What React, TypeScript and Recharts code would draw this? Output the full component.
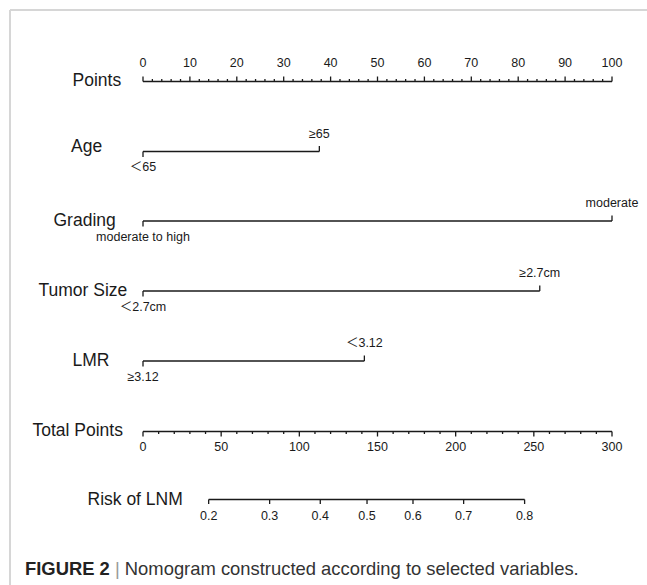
import React from 'react';
import { ComposedChart, XAxis, YAxis, Line, Scatter, Customized } from 'recharts';

// ---------------- data ----------------
const pointMajorTicks = [0, 10, 20, 30, 40, 50, 60, 70, 80, 90, 100];
const pointMinorStep = 2;
const totalMajorTicks = [0, 50, 100, 150, 200, 250, 300];
const totalMinorStep = 10;

const variableNames = ['Age', 'Grading', 'Tumor Size', 'LMR'];
const lowLevelLabels = ['＜65', 'moderate to high', '＜2.7cm', '≥3.12'];
const highLevelLabels = ['≥65', 'moderate', '≥2.7cm', '＜3.12'];
const highLevelPoints = [37.6, 100, 84.6, 47.2];

const riskTickLabels = ['0.2', '0.3', '0.4', '0.5', '0.6', '0.7', '0.8'];
const riskTickTotalPoints = [42.0, 81.0, 113.4, 143.3, 172.7, 205.1, 244.1];

const captionBold = 'FIGURE 2';
const captionText = 'Nomogram constructed according to selected variables.';

// ---------------- layout ----------------
const W = 647;
const H = 585;
const ROW_Y = { points: 81.5, vars: [151.5, 221, 291, 361], total: 431.5, risk: 499.5 };
const TITLE_X = { points: 72.5, vars: [71, 53.5, 38.5, 72.5], total: 32.5, risk: 87.5 };
const TITLE_DY = { points: 4.5, vars: [0.5, 4.5, 4.5, 4.5], total: 4, risk: 5 };

const FONT = '"Liberation Sans", Arial, Helvetica, "Noto Sans CJK SC", sans-serif';
const INK = '#1a1a1a';
const LW = 1.3;

const TICK_STYLE: Record<string, { len: number; labelDy?: number }> = {
  pMajor: { len: -5, labelDy: -15 },
  pMinor: { len: -2.5 },
  tMajor: { len: 5, labelDy: 19.5 },
  tMinor: { len: 2.5 },
  risk: { len: 4.5, labelDy: 20.5 },
  varLow: { len: 5.5, labelDy: 19.5 },
  varHigh: { len: -5.5, labelDy: -14 },
};

const MarkShape = (props: any) => {
  const { cx, cy, payload } = props;
  if (cx == null || cy == null) return <g />;
  if (payload.kind === 'title') {
    return (
      <text x={payload.tx} y={cy + payload.tdy} fontSize={17.5} fontFamily={FONT} fill={INK} textAnchor="start">
        {payload.label}
      </text>
    );
  }
  const st = TICK_STYLE[payload.kind];
  return (
    <g>
      <line x1={cx} x2={cx} y1={cy} y2={cy + st.len} stroke={INK} strokeWidth={LW} />
      {payload.label != null && st.labelDy != null && (
        <text x={cx} y={cy + st.labelDy} fontSize={12.5} fontFamily={FONT} fill={INK} textAnchor="middle">
          {payload.label}
        </text>
      )}
    </g>
  );
};

const Frame = () => (
  <g>
    <line x1={10} y1={10} x2={W} y2={10} stroke="#d6d6d6" strokeWidth={2} />
    <line x1={10} y1={10} x2={10} y2={H} stroke="#d6d6d6" strokeWidth={2} />
    <text x={25} y={575} fontSize={18.4} fontFamily={FONT} fill="#333">
      <tspan fontWeight="bold" fill="#222">{captionBold}</tspan>
      <tspan fill="#999"> | </tspan>
      <tspan>{captionText}</tspan>
    </text>
  </g>
);

export default function App() {
  const pointTicks: any[] = [];
  for (let v = 0; v <= 100; v += pointMinorStep) {
    const major = pointMajorTicks.includes(v);
    pointTicks.push({ x: v, y: ROW_Y.points, kind: major ? 'pMajor' : 'pMinor', label: major ? String(v) : undefined });
  }
  const totalTicks: any[] = [];
  for (let v = 0; v <= 300; v += totalMinorStep) {
    const major = totalMajorTicks.includes(v);
    totalTicks.push({ x: v, y: ROW_Y.total, kind: major ? 'tMajor' : 'tMinor', label: major ? String(v) : undefined });
  }
  const riskTicks = riskTickLabels.map((l, i) => ({ x: riskTickTotalPoints[i], y: ROW_Y.risk, kind: 'risk', label: l }));

  const varEnds: any[] = [];
  variableNames.forEach((_, i) => {
    varEnds.push({ x: 0, y: ROW_Y.vars[i], kind: 'varLow', label: lowLevelLabels[i] });
    varEnds.push({ x: highLevelPoints[i], y: ROW_Y.vars[i], kind: 'varHigh', label: highLevelLabels[i] });
  });

  const titles = [
    { x: 0, y: ROW_Y.points, kind: 'title', label: 'Points', tx: TITLE_X.points, tdy: TITLE_DY.points },
    ...variableNames.map((n, i) => ({ x: 0, y: ROW_Y.vars[i], kind: 'title', label: n, tx: TITLE_X.vars[i], tdy: TITLE_DY.vars[i] })),
    { x: 0, y: ROW_Y.total, kind: 'title', label: 'Total Points', tx: TITLE_X.total, tdy: TITLE_DY.total },
    { x: 0, y: ROW_Y.risk, kind: 'title', label: 'Risk of LNM', tx: TITLE_X.risk, tdy: TITLE_DY.risk },
  ];

  const pointsLine = [{ x: 0, y: ROW_Y.points }, { x: 100, y: ROW_Y.points }];
  const totalLine = [{ x: 0, y: ROW_Y.total }, { x: 300, y: ROW_Y.total }];
  const riskLine = [
    { x: riskTickTotalPoints[0], y: ROW_Y.risk },
    { x: riskTickTotalPoints[riskTickTotalPoints.length - 1], y: ROW_Y.risk },
  ];
  const varLines = variableNames.map((_, i) => [
    { x: 0, y: ROW_Y.vars[i] },
    { x: highLevelPoints[i], y: ROW_Y.vars[i] },
  ]);

  return (
    <div style={{ position: 'absolute', left: 0, top: 0, width: W, height: H, background: '#fff' }}>
      <ComposedChart width={W} height={H} margin={{ top: 0, right: 35, bottom: 0, left: 143 }}>
        <XAxis xAxisId="p" type="number" dataKey="x" domain={[0, 100]} hide />
        <XAxis xAxisId="t" type="number" dataKey="x" domain={[0, 300]} hide />
        <YAxis yAxisId="y" type="number" dataKey="y" domain={[0, H]} reversed hide />
        <Customized component={Frame} />
        <Line xAxisId="p" yAxisId="y" data={pointsLine} dataKey="y" stroke={INK} strokeWidth={LW} dot={false} activeDot={false} isAnimationActive={false} />
        {varLines.map((d, i) => (
          <Line key={i} xAxisId="p" yAxisId="y" data={d} dataKey="y" stroke={INK} strokeWidth={LW} dot={false} activeDot={false} isAnimationActive={false} />
        ))}
        <Line xAxisId="t" yAxisId="y" data={totalLine} dataKey="y" stroke={INK} strokeWidth={LW} dot={false} activeDot={false} isAnimationActive={false} />
        <Line xAxisId="t" yAxisId="y" data={riskLine} dataKey="y" stroke={INK} strokeWidth={LW} dot={false} activeDot={false} isAnimationActive={false} />
        <Scatter xAxisId="p" yAxisId="y" data={pointTicks} dataKey="y" shape={MarkShape} isAnimationActive={false} />
        <Scatter xAxisId="p" yAxisId="y" data={varEnds} dataKey="y" shape={MarkShape} isAnimationActive={false} />
        <Scatter xAxisId="p" yAxisId="y" data={titles} dataKey="y" shape={MarkShape} isAnimationActive={false} />
        <Scatter xAxisId="t" yAxisId="y" data={totalTicks} dataKey="y" shape={MarkShape} isAnimationActive={false} />
        <Scatter xAxisId="t" yAxisId="y" data={riskTicks} dataKey="y" shape={MarkShape} isAnimationActive={false} />
      </ComposedChart>
    </div>
  );
}
